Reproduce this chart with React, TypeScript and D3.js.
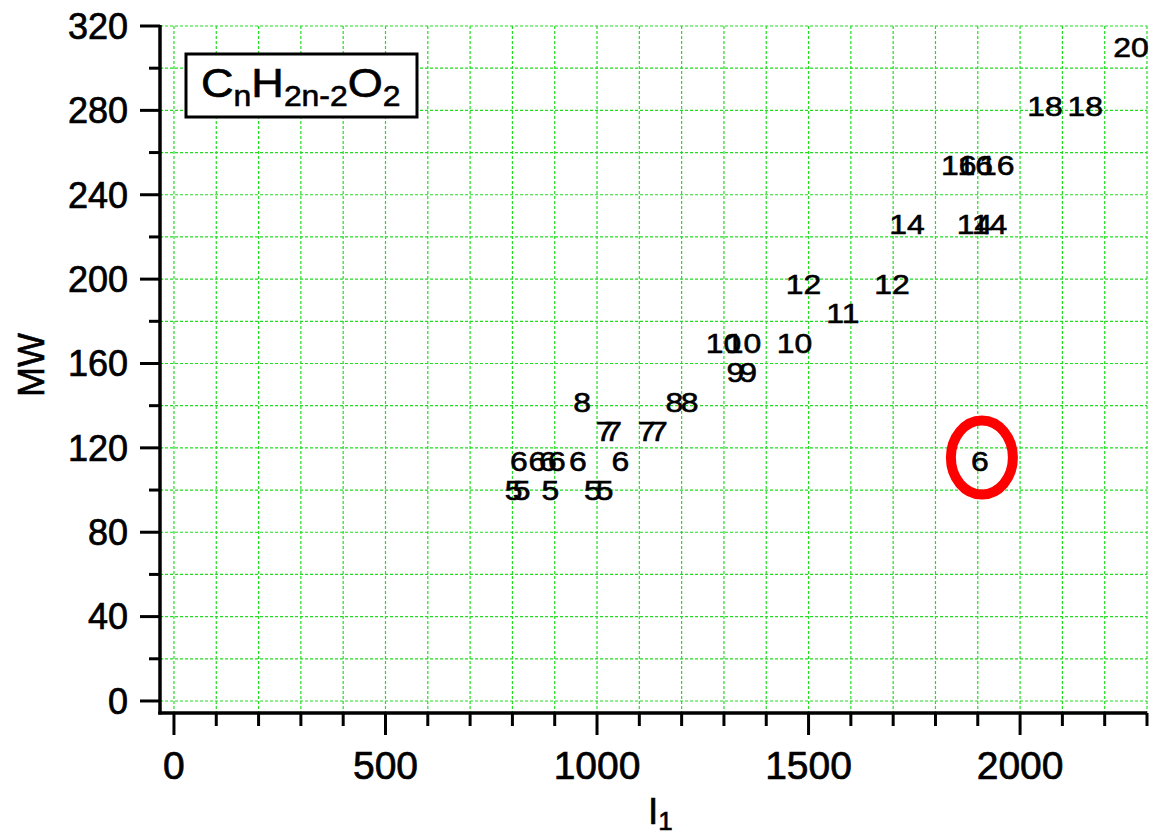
import React from "react";
import * as d3 from "d3";

// Carbon number labels (n) for CnH2n-2O2 compounds
const carbonNumbers = [
  5, 5, 5, 5, 5,
  6, 6, 6, 6, 6, 6, 6,
  7, 7, 7, 7,
  8, 8, 8,
  9, 9,
  10, 10, 10,
  11,
  12, 12,
  14, 14, 14,
  16, 16, 16,
  18, 18,
  20,
];
// Retention index I1
const retentionIndices = [
  803, 822, 890, 990, 1018,
  815, 859, 884, 905, 955, 1055, 1905,
  1018, 1038, 1117, 1146,
  965, 1183, 1219,
  1327, 1357,
  1299, 1346, 1467,
  1581,
  1488, 1697,
  1733, 1892, 1928,
  1855, 1894, 1945,
  2059, 2154,
  2262,
];
// Molecular weight
const molecularWeights = [
  100, 100, 100, 100, 100,
  114, 114, 114, 114, 114, 114, 114,
  128, 128, 128, 128,
  142, 142, 142,
  156, 156,
  170, 170, 170,
  184,
  198, 198,
  226, 226, 226,
  254, 254, 254,
  282, 282,
  310,
];
const highlightIndex = 11; // the circled "6"

const xMajorTicks = [0, 500, 1000, 1500, 2000];
const yMajorTicks = [0, 40, 80, 120, 160, 200, 240, 280, 320];

const FONT = "'Liberation Sans', Arial, sans-serif";

export default function App() {
  const W = 1153;
  const H = 835;
  const x = d3.scaleLinear().domain([-33, 2300]).range([160, 1147]);
  const y = d3.scaleLinear().domain([-5.7, 320]).range([713, 26]);

  const xGrid = d3.range(0, 2301, 100);
  const yGrid = d3.range(0, 321, 20);
  const xMinor = d3.range(0, 2301, 100).filter((v) => v % 500 !== 0);
  const yMinor = d3.range(20, 321, 40);

  const green = "#22dd22";
  const points = carbonNumbers.map((n, i) => ({
    n,
    ri: retentionIndices[i],
    mw: molecularWeights[i],
  }));
  const hp = points[highlightIndex];

  return (
    <svg
      width={W}
      height={H}
      style={{ position: "absolute", left: 0, top: 0, background: "#fff" }}
      fontFamily={FONT}
    >
      <rect x={0} y={0} width={W} height={H} fill="#fff" />
      {/* grid */}
      {xGrid.map((v) => (
        <line
          key={"gx" + v}
          x1={x(v)}
          x2={x(v)}
          y1={y(320)}
          y2={713}
          stroke={green}
          strokeWidth={1.2}
          strokeDasharray="3,2"
        />
      ))}
      {yGrid.map((v) => (
        <line
          key={"gy" + v}
          x1={160}
          x2={x(2300)}
          y1={y(v)}
          y2={y(v)}
          stroke={green}
          strokeWidth={1.2}
          strokeDasharray="3,2"
        />
      ))}

      {/* axes */}
      <line x1={160} x2={160} y1={y(320) - 1} y2={714.5} stroke="#000" strokeWidth={3.5} />
      <line x1={158.25} x2={x(2300)} y1={713} y2={713} stroke="#000" strokeWidth={3.5} />

      {/* y ticks */}
      {yMajorTicks.map((v) => (
        <g key={"yt" + v}>
          <line x1={140} x2={160} y1={y(v)} y2={y(v)} stroke="#000" strokeWidth={3} />
          <text
            x={128}
            y={y(v)}
            dy="0.358em"
            textAnchor="end"
            fontSize={36}
            fill="#000"
            stroke="#000"
            strokeWidth={0.7}
          >
            {v}
          </text>
        </g>
      ))}
      {yMinor.map((v) => (
        <line key={"ym" + v} x1={149} x2={160} y1={y(v)} y2={y(v)} stroke="#000" strokeWidth={3} />
      ))}

      {/* x ticks */}
      {xMajorTicks.map((v) => (
        <g key={"xt" + v}>
          <line x1={x(v)} x2={x(v)} y1={713} y2={735} stroke="#000" strokeWidth={3} />
          <text
            x={x(v)}
            y={779}
            textAnchor="middle"
            fontSize={39}
            fill="#000"
            stroke="#000"
            strokeWidth={0.7}
          >
            {v}
          </text>
        </g>
      ))}
      {xMinor.map((v) => (
        <line key={"xm" + v} x1={x(v)} x2={x(v)} y1={713} y2={726} stroke="#000" strokeWidth={3} />
      ))}

      {/* axis titles */}
      <text
        transform={`translate(44,365) rotate(-90)`}
        textAnchor="middle"
        fontSize={36}
        fill="#000"
        stroke="#000"
        strokeWidth={0.6}
      >
        MW
      </text>
      <text x={648} y={824} fontSize={37} fill="#000" stroke="#000" strokeWidth={0.6}>
        I
        <tspan fontSize={26} dy={6}>
          1
        </tspan>
      </text>

      {/* data labels */}
      {points.map((p, i) => (
        <text
          key={"p" + i}
          transform={`translate(${x(p.ri)},${y(p.mw)}) scale(1.12,1)`}
          dy="0.358em"
          textAnchor="middle"
          fontSize={28.5}
          fill="#000"
          stroke="#000"
          strokeWidth={0.6}
        >
          {p.n}
        </text>
      ))}

      {/* highlight circle */}
      <ellipse
        cx={x(hp.ri) + 2}
        cy={y(hp.mw) - 3}
        rx={31}
        ry={37}
        fill="none"
        stroke="#ff0000"
        strokeWidth={10}
      />

      {/* legend box */}
      <rect x={186} y={54} width={231} height={63} fill="#fff" stroke="#000" strokeWidth={3} />
      <text
        transform="translate(201,97) scale(1.1,1)"
        fontSize={41}
        fill="#000"
        stroke="#000"
        strokeWidth={0.6}
      >
        C
        <tspan fontSize={29} dy={9}>n</tspan>
        <tspan fontSize={41} dy={-9}>H</tspan>
        <tspan fontSize={29} dy={9}>2n-2</tspan>
        <tspan fontSize={41} dy={-9}>O</tspan>
        <tspan fontSize={29} dy={9}>2</tspan>
      </text>
    </svg>
  );
}
